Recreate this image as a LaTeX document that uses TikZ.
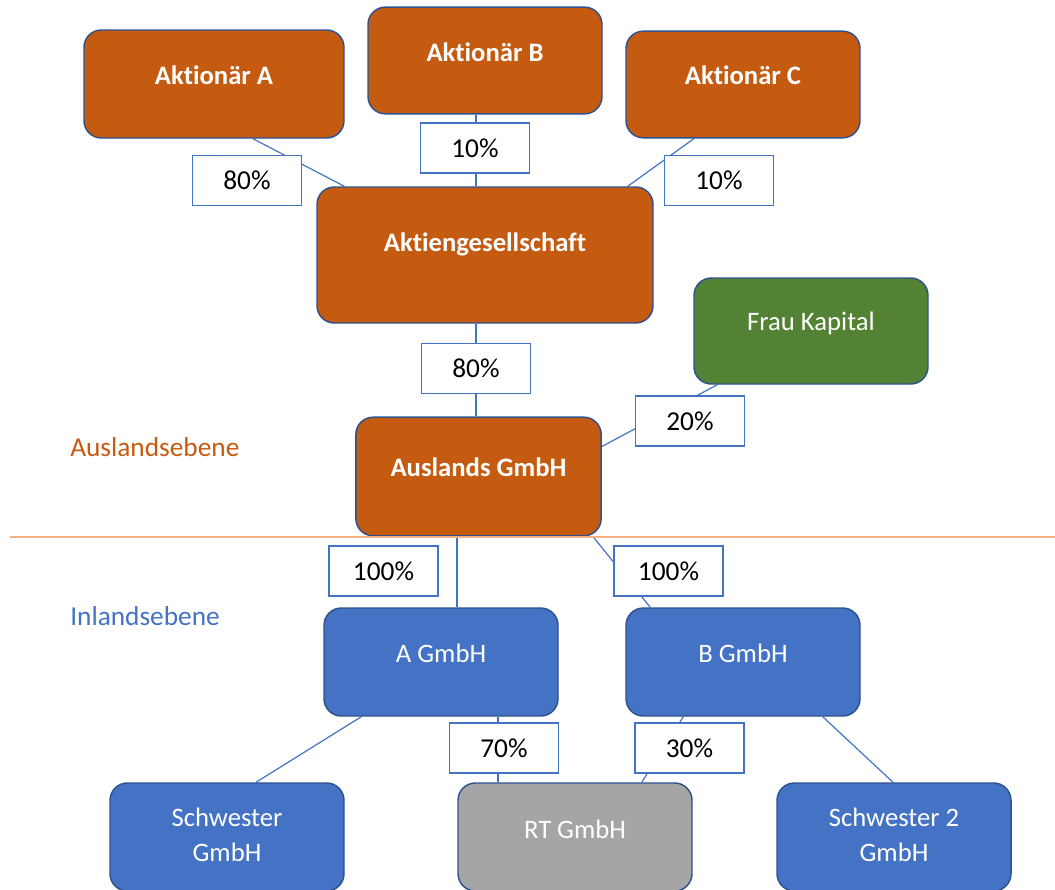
\documentclass[tikz,border=0pt]{standalone}
\usepackage{fontspec}
\setmainfont[Ligatures={NoCommon}]{Carlito}
\usetikzlibrary{calc,backgrounds}
\definecolor{ora}{HTML}{C55A11}
\definecolor{grn}{HTML}{548235}
\definecolor{blu}{HTML}{4472C4}
\definecolor{gry}{HTML}{A5A5A5}
\definecolor{edge}{HTML}{2F528F}
\definecolor{lora}{HTML}{F4B183}
\tikzset{
  x=0.75pt, y=-0.75pt,
  box/.style={draw=edge, line width=1.1pt, rounded corners=13pt, inner sep=0pt},
  obox/.style={box, fill=ora},
  gbox/.style={box, fill=grn},
  bbox/.style={box, fill=blu},
  rbox/.style={box, fill=gry},
  wtext/.style={text=white, font=\fontsize{20}{24}\selectfont, align=center, inner sep=0pt},
  btext/.style={wtext, font=\fontsize{20}{24}\selectfont\bfseries},
  pct/.style={draw=blu, line width=1.1pt, fill=white, minimum width=82pt, minimum height=37.5pt, inner sep=0pt, text depth=0pt, font=\fontsize{20.5}{24}\selectfont, text=black},
  conn/.style={draw=blu, line width=0.9pt},
  lvl/.style={font=\fontsize{20.5}{24}\selectfont, anchor=west, inner sep=0pt}
}
\begin{document}
\begin{tikzpicture}
\useasboundingbox (0,0) rectangle (1055,889);
% boxes
\node[obox, minimum width=195pt, minimum height=81pt] (aa) at (214,84) {};
\node[obox, minimum width=175.5pt, minimum height=80pt] (ab) at (485,60.5) {};
\node[obox, minimum width=175.5pt, minimum height=80pt] (ac) at (743,84.5) {};
\node[obox, minimum width=252pt, minimum height=102pt] (ag) at (485,255) {};
\node[gbox, minimum width=175.5pt, minimum height=79.5pt] (fk) at (811,331) {};
\node[obox, minimum width=184pt, minimum height=89pt] (au) at (478.5,476.5) {};
\node[bbox, minimum width=175.5pt, minimum height=81pt] (ag1) at (441,662) {};
\node[bbox, minimum width=175.5pt, minimum height=81pt] (bg1) at (743,662) {};
\node[bbox, minimum width=175.5pt, minimum height=81pt] (sg) at (227,837) {};
\node[rbox, minimum width=175.5pt, minimum height=81pt] (rt) at (575,837) {};
\node[bbox, minimum width=175.5pt, minimum height=81pt] (s2) at (894,837) {};
% texts
\node[btext] (taa) at (214,75) {Aktionär A};
\node[btext] (tab) at (485,52) {Aktionär B};
\node[btext] (tac) at (743,75) {Aktionär C};
\node[btext] (tag) at (485,244) {Aktiengesellschaft};
\node[wtext] (tfk) at (811,323) {Frau Kapital};
\node[btext] (tau) at (478.5,467) {Auslands GmbH};
\node[wtext] (tag1) at (441,653) {A GmbH};
\node[wtext] (tbg1) at (743,653) {B GmbH};
\node[wtext] (tsg) at (227,835) {Schwester\\[2pt]GmbH};
\node[wtext] (trt) at (575,829) {RT GmbH};
\node[wtext] (ts2) at (894,835) {Schwester 2\\[2pt]GmbH};
% percentage labels
\node[pct] (p1) at (247,180.5) {80\%};
\node[pct] (p2) at (475,148) {10\%};
\node[pct] (p3) at (719,180.5) {10\%};
\node[pct] (p4) at (476,368.5) {80\%};
\node[pct] (p5) at (690,421) {20\%};
\node[pct] (p6) at (383.5,571) {100\%};
\node[pct] (p7) at (668.5,571) {100\%};
\node[pct] (p8) at (504,748) {70\%};
\node[pct] (p9) at (689.5,748) {30\%};
% level labels
\node[lvl, text=ora] (lau) at (70,447) {Auslandsebene};
\node[lvl, text=blu] (lin) at (70,616) {Inlandsebene};
\coordinate (dl) at (10,537);
\coordinate (dr) at (1055,537);
\draw[draw=lora, line width=1.1pt] (dl) -- (dr);
% connectors
\begin{scope}[on background layer]
\draw[conn] ($(aa.south)+(39,0)$) -- ($(ag.north west)+(28,0)$);
\draw[conn] ($(ab.south)+(-9,0)$) -- ($(ag.north)+(-9,0)$);
\draw[conn] ($(ac.south)+(-49,0)$) -- ($(ag.north east)+(-26,0)$);
\draw[conn] ($(ag.south)+(-9,0)$) -- ($(au.north)+(-2.5,0)$);
\draw[conn] ($(fk.south west)+(24,0)$) -- ($(au.east)+(0,-30)$);
\draw[conn] ($(au.south)+(-21.5,0)$) -- ($(ag1.north)+(16,0)$);
\draw[conn] ($(au.south east)+(-9,0)$) -- ($(bg1.north west)+(25,0)$);
\draw[conn] ($(ag1.south west)+(38,0)$) -- ($(sg.north)+(29,0)$);
\draw[conn] ($(ag1.south)+(57,0)$) -- ($(rt.north)+(-77,0)$);
\draw[conn] ($(bg1.south west)+(58,0)$) -- ($(rt.north east)+(-51,0)$);
\draw[conn] ($(bg1.south east)+(-38,0)$) -- ($(s2.north)+(-1,0)$);
\end{scope}
\end{tikzpicture}
\end{document}
